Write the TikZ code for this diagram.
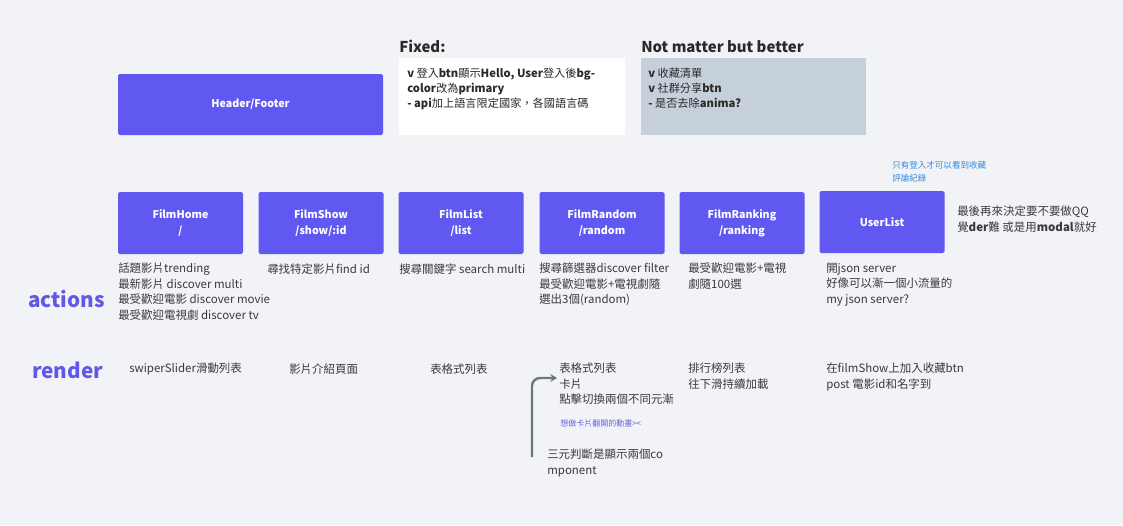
\documentclass[tikz,border=0pt]{standalone}
\usepackage{fontspec}
\setmainfont{Noto Sans CJK TC}
\usetikzlibrary{arrows.meta}
\definecolor{bgc}{HTML}{F1F3F6}
\definecolor{boxc}{HTML}{6158F2}
\definecolor{grayc}{HTML}{C6D0DA}
\definecolor{txtc}{HTML}{3A3A3A}
\definecolor{titc}{HTML}{2A2A2A}
\definecolor{labc}{HTML}{6158E6}
\definecolor{bluec}{HTML}{3A88D6}
\definecolor{notec}{HTML}{6A5FD8}
\definecolor{arrc}{HTML}{6B7684}
\begin{document}
\begin{tikzpicture}[x=0.75pt,y=-0.75pt,
  comp/.style={fill=boxc, rounded corners=1.2pt, minimum width=93.75pt, minimum height=46.5pt,
    text=white, align=center, inner sep=0pt, font=\fontsize{8}{12}\selectfont\bfseries},
  txt/.style={anchor=north west, inner sep=0pt, align=left, text=txtc, font=\fontsize{8.6}{11.6}\selectfont},
  line/.style={anchor=west, inner sep=0pt, text=txtc, font=\fontsize{8.6}{11.6}\selectfont},
  boxtxt/.style={anchor=north west, inner sep=0pt, align=left, text=titc, font=\fontsize{8.4}{11.25}\selectfont},
  title/.style={anchor=base west, inner sep=0pt, text=titc, font=\fontsize{11.2}{14}\selectfont\bfseries},
  rowlab/.style={anchor=base west, inner sep=0pt, text=labc, font=\fontsize{15.5}{18}\selectfont\bfseries},
  arr/.style={draw=arrc, line width=1.8pt, rounded corners=6pt, -{Stealth[length=5pt,width=6pt]}}]
\fill[bgc] (0,0) rectangle (1123,525);
\useasboundingbox (0,0) rectangle (1123,525);

% header
\node[comp, minimum width=198.75pt, minimum height=45.75pt] (hdr) at (250.5,104.5) {Header/Footer};

% fixed / not matter
\node[title] (fixT) at (399,52) {Fixed:};
\node[title] (nmT) at (641,52) {Not matter but better};
\node[fill=white, minimum width=169.5pt, minimum height=57.75pt, inner sep=0pt] (fixB) at (512,96.5) {};
\node[fill=grayc, minimum width=168.75pt, minimum height=57.75pt, inner sep=0pt] (nmB) at (753.5,96.5) {};
\node[boxtxt] (fixL) at (407,68) {\textbf{v} 登入\textbf{btn}顯示\textbf{Hello, User}登入後\textbf{bg-}\\\textbf{color}改為\textbf{primary}\\\textbf{- api}加上語言限定國家，各國語言碼};
\node[boxtxt] (nmL) at (648,68) {\textbf{v} 收藏清單\\\textbf{v} 社群分享\textbf{btn}\\\textbf{-} 是否去除\textbf{anima?}};

% components
\node[comp] (home) at (180.5,223) {FilmHome\\/};
\node[comp] (show) at (321,223) {FilmShow\\/show/:id};
\node[comp] (list) at (461,223) {FilmList\\/list};
\node[comp] (rand) at (602,223) {FilmRandom\\/random};
\node[comp] (rank) at (742,223) {FilmRanking\\/ranking};
\node[comp] (user) at (882,222) {UserList};

% notes
\node[anchor=north west, inner sep=0pt, align=left, text=bluec, font=\fontsize{6.4}{9.75}\selectfont] (loginN) at (892,161.5) {只有登入才可以看到收藏\\評論紀錄};
\node[txt] (lastN) at (957,206) {最後再來決定要不要做QQ\\覺\textbf{der}難 或是用\textbf{modal}就好};

% row labels
\node[rowlab] (actL) at (28,307) {actions};
\node[rowlab] (renL) at (32,378) {render};

% actions
\node[txt] (homeA) at (118,263) {話題影片trending\\最新影片 discover multi\\最受歡迎電影 discover movie\\最受歡迎電視劇 discover tv};
\node[line] (showA) at (267,269) {尋找特定影片find id};
\node[line] (listA) at (399,269) {搜尋關鍵字 search multi};
\node[txt] (randA) at (539,263) {搜尋篩選器discover filter\\最受歡迎電影+電視劇隨\\選出3個(random)};
\node[txt] (rankA) at (688,263) {最受歡迎電影+電視\\劇隨100選};
\node[txt] (userA) at (826,263) {開json server\\好像可以漸一個小流量的\\my json server?};

% render
\node[line] (homeR) at (129,369) {swiperSlider滑動列表};
\node[line] (showR) at (289,369) {影片介紹頁面};
\node[line] (listR) at (430,369) {表格式列表};
\node[txt] (randR) at (559,363) {表格式列表\\卡片\\點擊切換兩個不同元漸};
\node[anchor=west, inner sep=0pt, text=notec, font=\fontsize{6}{8}\selectfont] (flipN) at (560,423) {想做卡片翻開的動畫><};
\node[txt] (ternN) at (547,449) {三元判斷是顯示兩個co\\mponent};
\node[txt] (rankR) at (688,363) {排行榜列表\\往下滑持續加載};
\node[txt] (userR) at (826,363) {在filmShow上加入收藏btn\\post 電影id和名字到};

% arrow
\coordinate (aS) at (532,457);
\coordinate (aE) at (557,378);
\draw[arr] (aS) |- (aE);
\end{tikzpicture}
\end{document}
